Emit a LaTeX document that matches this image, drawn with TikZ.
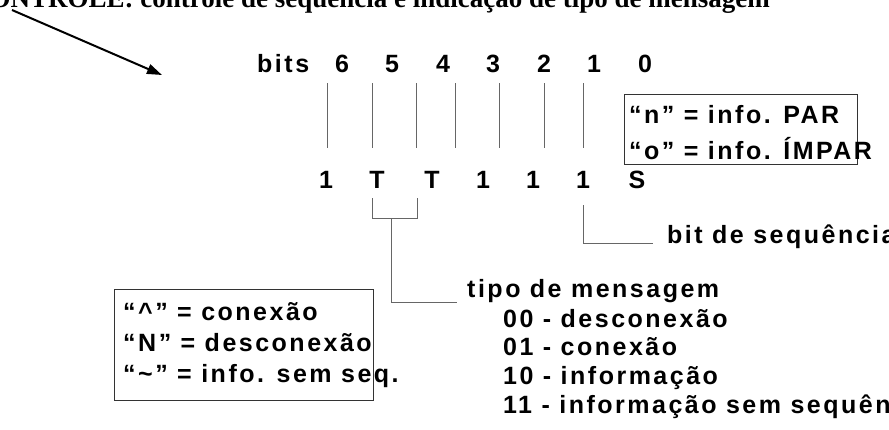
\documentclass[tikz,border=0pt]{standalone}
\usepackage{fontspec}
\setmainfont{Liberation Sans}
\newfontfamily\lblfont[LetterSpace=10]{Liberation Sans}
\newfontfamily\ttlfont{Liberation Serif}
\usetikzlibrary{arrows.meta}
\begin{document}
\begin{tikzpicture}[x=1pt,y=-1pt,
  lbl/.style={font=\lblfont\bfseries\fontsize{25}{29}\selectfont, inner sep=0pt, text=black},
  conn/.style={draw=black!60, line width=1pt},
  boxst/.style={draw=black!80, line width=1pt, inner sep=0pt, anchor=north west}]
\clip (0,0) rectangle (889,429);
\useasboundingbox (0,0) rectangle (889,429);
% title (partly cut at top)
\node[font=\ttlfont\bfseries\fontsize{27}{30}\selectfont, anchor=base east, inner sep=0pt] (title) at (770,7) {CONTROLE: controle de sequência e indicação de tipo de mensagem};
% arrow
\coordinate (a1) at (12,10);
\coordinate (a2) at (162,75);
\draw[line width=2pt, -{Triangle[length=15pt,width=10pt]}] (a1) -- (a2);
% header
\node[lbl, anchor=base west] (bits) at (257,72) {bits};
\foreach \n/\x in {6/342,5/392,4/443,3/493,2/544,1/594,0/645}
  \node[lbl, anchor=base] (h\n) at (\x,72) {\n};
% vertical lines
\foreach \n/\x in {6/327,5/372,4/416,3/455,2/499,1/544,0/583}{
  \coordinate (vt\n) at (\x,83);
  \coordinate (vb\n) at (\x,148);
  \draw[conn] (vt\n) -- (vb\n);
}
% row of values
\foreach \n/\x/\t in {6/326/1,5/377/T,4/432/T,3/483/1,2/533/1,1/583/1,0/637/S}
  \node[lbl, anchor=base] (r\n) at (\x,188) {\t};
% parity box
\node[boxst, minimum width=233pt, minimum height=70pt] (pbox) at (624,94) {};
\node[lbl, anchor=base west] (pn) at (629,123) {“n” = info. PAR};
\node[lbl, anchor=base west] (po) at (629,159) {“o” = info. ÍMPAR};
% bracket for type bits
\coordinate (bl1) at (372,198);
\coordinate (bl2) at (372,218);
\coordinate (br1) at (417,198);
\coordinate (br2) at (417,218);
\coordinate (bm) at (391,218);
\coordinate (bc) at (391,302);
\coordinate (be) at (457,302);
\draw[conn] (bl1) -- (bl2) -- (br2) -- (br1);
\draw[conn] (bm) -- (bc) -- (be);
% sequence bit connector
\coordinate (s1) at (583,205);
\coordinate (s2) at (583,243);
\coordinate (s3) at (653,243);
\draw[conn] (s1) -- (s2) -- (s3);
\node[lbl, anchor=base west] (seq) at (667,243) {bit de sequência};
% message type list
\node[lbl, anchor=base west] (tipo) at (467,297) {tipo de mensagem};
\node[lbl, anchor=base west] (m00) at (503,327) {00 - desconexão};
\node[lbl, anchor=base west] (m01) at (503,355.5) {01 - conexão};
\node[lbl, anchor=base west] (m10) at (503,384.5) {10 - informação};
\node[lbl, anchor=base west] (m11) at (503,413) {11 - informação sem sequência};
% left box
\node[boxst, minimum width=259pt, minimum height=111pt] (lbox) at (114,289) {};
\node[lbl, anchor=base west] (c1) at (123,320) {“\char`\^” = conexão};
\node[lbl, anchor=base west] (c2) at (123,351) {“N” = desconexão};
\node[lbl, anchor=base west] (c3) at (123,382) {“\char`\~” = info. sem seq.};
\end{tikzpicture}
\end{document}
